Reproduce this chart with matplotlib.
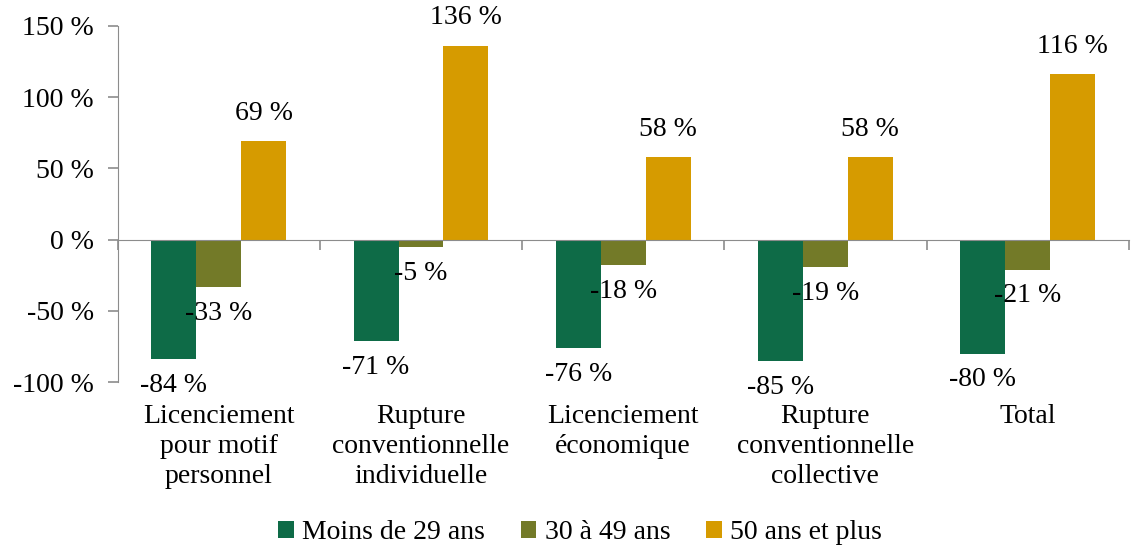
import numpy as np
import matplotlib
matplotlib.use("Agg")
import matplotlib.pyplot as plt

categories = ["Licenciement\npour motif\npersonnel", "Rupture\nconventionnelle\nindividuelle",
              "Licenciement\néconomique", "Rupture\nconventionnelle\ncollective", "Total"]
series_names = ["Moins de 29 ans", "30 à 49 ans", "50 ans et plus"]
moins_29 = [-84, -71, -76, -85, -80]
de_30_49 = [-33, -5, -18, -19, -21]
plus_50 = [69, 136, 58, 58, 116]
yticks = [-100, -50, 0, 50, 100, 150]

colors = ["#0E6B47", "#737A28", "#D69B00"]
axis_grey = "#8C8C8C"

plt.rcParams["font.family"] = ["Liberation Serif", "DejaVu Serif"]
fs = 20

fig = plt.figure(figsize=(11.31, 5.49), dpi=100)
ax = fig.add_axes([0.104, 0.304, 0.894, 0.649])

x = np.arange(len(categories))
w = 0.222
for i, (vals, c) in enumerate(zip([moins_29, de_30_49, plus_50], colors)):
    pos = x + (i - 1) * w
    ax.bar(pos, vals, width=w, color=c, label=series_names[i], zorder=2)
    for xp, v in zip(pos, vals):
        off = 20 if v >= 0 else -19
        ax.annotate(f"{v} %", (xp, v), xytext=(0, off), textcoords="offset points",
                    ha="center", va="center", fontsize=fs, zorder=3)

ax.set_xlim(-0.5, len(categories) - 0.5)
ax.set_ylim(-100, 150)
ax.set_yticks(yticks)
ax.set_yticklabels([f"{t} %" for t in yticks], fontsize=fs)

ax.spines["top"].set_visible(False)
ax.spines["right"].set_visible(False)
ax.spines["left"].set_color(axis_grey)
ax.spines["bottom"].set_position(("data", 0))
ax.spines["bottom"].set_color(axis_grey)
ax.tick_params(axis="y", colors=axis_grey, labelcolor="black", length=7, width=1.2, pad=10)
ax.set_xticks(np.arange(len(categories) + 1) - 0.5)
ax.set_xticklabels([])
ax.tick_params(axis="x", colors=axis_grey, length=7, width=1.2)

for xp, lab in zip(x, categories):
    ax.text(xp, -0.062, lab, transform=ax.get_xaxis_transform(), ha="center", va="top",
            fontsize=fs, linespacing=1.27)

fig.legend(loc="center", bbox_to_anchor=(0.513, 0.03), ncol=3, frameon=False,
           fontsize=fs, handlelength=0.55, handleheight=0.55, handletextpad=0.3,
           columnspacing=1.3)

fig.savefig("out.png", dpi=100)
